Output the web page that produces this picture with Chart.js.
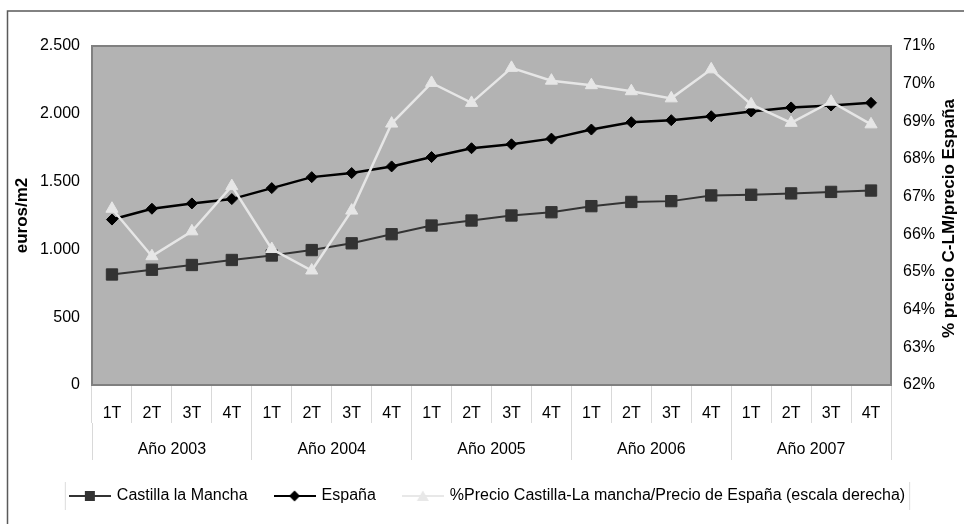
<!DOCTYPE html>
<html>
<head>
<meta charset="utf-8">
<script src="https://cdn.jsdelivr.net/npm/chart.js@4.4.1/dist/chart.umd.min.js"></script>
<style>
  html, body { margin: 0; padding: 0; background: #fff; }
  canvas { display: block; }
</style>
</head>
<body>
<canvas id="chart" width="964" height="524"></canvas>
<script>
// quarters shown on the first row of the x axis, years on the second row
const quarters = ['1T', '2T', '3T', '4T', '1T', '2T', '3T', '4T', '1T', '2T',
                  '3T', '4T', '1T', '2T', '3T', '4T', '1T', '2T', '3T', '4T'];
const years = ['Año 2003', 'Año 2004', 'Año 2005', 'Año 2006', 'Año 2007'];

// euros/m2
const castilla = [815, 850, 885, 922, 955, 995, 1045, 1112, 1176, 1213,
                  1250, 1274, 1319, 1350, 1356, 1398, 1403, 1413, 1424, 1434];
const espana = [1220, 1300, 1339, 1371, 1452, 1533, 1563, 1612, 1681, 1746,
                1775, 1817, 1884, 1938, 1953, 1982, 2017, 2047, 2061, 2081];
// % precio C-LM / precio España (right axis)
const ratio = [66.68, 65.42, 66.08, 67.28, 65.61, 65.04, 66.63, 68.94, 70.02, 69.49,
               70.42, 70.08, 69.96, 69.80, 69.61, 70.38, 69.45, 68.96, 69.52, 68.92];

const FONT = "'Liberation Sans', Arial, sans-serif";
Chart.defaults.font.family = FONT;
Chart.defaults.font.size = 16;
Chart.defaults.color = '#000';

const fmtThousands = v => String(v).replace(/\B(?=(\d{3})+(?!\d))/g, '.');

// small legend icons: line with the marker in the middle
function legendIcon(kind, color) {
  const c = document.createElement('canvas');
  c.width = 42; c.height = 14;
  const g = c.getContext('2d');
  g.strokeStyle = color; g.lineWidth = 2;
  g.beginPath(); g.moveTo(0, 7); g.lineTo(42, 7); g.stroke();
  g.fillStyle = color;
  g.beginPath();
  if (kind === 'rect') g.rect(16, 2, 10, 10);
  else if (kind === 'diamond') { g.moveTo(21, 1.5); g.lineTo(26.5, 7); g.lineTo(21, 12.5); g.lineTo(15.5, 7); g.closePath(); }
  else { g.moveTo(21, 1.5); g.lineTo(27, 12); g.lineTo(15, 12); g.closePath(); }
  g.fill();
  return c;
}
const icons = [legendIcon('rect', '#333333'), legendIcon('diamond', '#000000'), legendIcon('tri', '#e8e8e8')];

const frame = {
  id: 'frame',
  beforeDraw(chart) {
    const {ctx, chartArea: a} = chart;
    ctx.save();
    ctx.fillStyle = '#fff';
    ctx.fillRect(0, 0, chart.width, chart.height);
    ctx.strokeStyle = '#5a5a5a';
    ctx.lineWidth = 1.5;
    ctx.strokeRect(7.5, 11, chart.width, chart.height);
    ctx.fillStyle = '#b3b3b3';
    ctx.fillRect(a.left, a.top, a.right - a.left, a.bottom - a.top);
    ctx.restore();
  },
  beforeDatasetsDraw(chart) {
    const {ctx, chartArea: a} = chart;
    ctx.save();
    ctx.strokeStyle = '#808080';
    ctx.lineWidth = 2;
    ctx.strokeRect(a.left, a.top, a.right - a.left, a.bottom - a.top);
    ctx.restore();
  },
  afterDraw(chart) {
    const {ctx, chartArea: a} = chart;
    const y2 = chart.scales.y2;
    ctx.save();
    // right axis title, reading bottom to top
    ctx.translate(y2.right - 15, (a.top + a.bottom) / 2 + 3);
    ctx.rotate(-Math.PI / 2);
    ctx.font = 'bold 17px ' + FONT;
    ctx.textAlign = 'center';
    ctx.textBaseline = 'middle';
    ctx.fillStyle = '#000';
    ctx.fillText('% precio C-LM/precio España', 0, 0);
    ctx.restore();
    // faint legend frame sides
    const hb = chart.legend.legendHitBoxes;
    if (hb && hb.length) {
      const l = hb[0].left - 5.5;
      const r = hb[hb.length - 1].left + hb[hb.length - 1].width + 4.5;
      const t = hb[0].top - 6, b = hb[0].top + hb[0].height + 6;
      ctx.save();
      ctx.strokeStyle = '#dcdcdc';
      ctx.lineWidth = 1;
      ctx.beginPath();
      ctx.moveTo(l, t); ctx.lineTo(l, b);
      ctx.moveTo(r, t); ctx.lineTo(r, b);
      ctx.stroke();
      ctx.restore();
    }
  }
};

new Chart(document.getElementById('chart'), {
  type: 'line',
  data: {
    labels: quarters,
    datasets: [{
      label: 'Castilla la Mancha',
      data: castilla,
      yAxisID: 'y',
      order: 2,
      borderColor: '#333333',
      backgroundColor: '#333333',
      borderWidth: 2,
      pointStyle: 'rect',
      pointRadius: 8,
      pointBorderWidth: 1,
      tension: 0
    }, {
      label: 'España',
      data: espana,
      yAxisID: 'y',
      order: 1,
      borderColor: '#000000',
      backgroundColor: '#000000',
      borderWidth: 2.5,
      pointStyle: 'rectRot',
      pointRadius: 5.5,
      pointBorderWidth: 1,
      tension: 0
    }, {
      label: '%Precio Castilla-La mancha/Precio de España (escala derecha)',
      data: ratio,
      yAxisID: 'y2',
      order: 0,
      borderColor: '#e6e6e6',
      backgroundColor: '#e6e6e6',
      borderWidth: 2.5,
      pointStyle: 'triangle',
      pointRadius: 7,
      pointBorderWidth: 1,
      tension: 0
    }]
  },
  options: {
    responsive: false,
    animation: false,
    layout: { padding: { left: 12, right: 0, top: 46, bottom: 10 } },
    plugins: {
      tooltip: { enabled: false },
      legend: {
        position: 'bottom',
        labels: {
          padding: 28,
          usePointStyle: true,
          pointStyleWidth: 38,
          font: { size: 16 },
          color: '#000',
          sort: (a, b) => a.datasetIndex - b.datasetIndex,
          generateLabels(chart) {
            const items = Chart.defaults.plugins.legend.labels.generateLabels(chart);
            items.forEach(it => { it.pointStyle = icons[it.datasetIndex]; });
            return items;
          }
        }
      }
    },
    scales: {
      x: {
        type: 'category',
        position: 'bottom',
        weight: 0,
        offset: true,
        grid: { offset: true, drawOnChartArea: false, drawTicks: true, tickLength: 38, color: '#d9d9d9', lineWidth: 1 },
        border: { display: false },
        ticks: { autoSkip: false, maxRotation: 0, padding: -19, font: { size: 16 } },
        afterFit: s => { s.height = 38; }
      },
      x2: {
        type: 'category',
        labels: years,
        position: 'bottom',
        weight: 1,
        offset: true,
        grid: { offset: true, drawOnChartArea: false, drawTicks: true, tickLength: 37, color: '#d9d9d9', lineWidth: 1 },
        border: { display: false },
        ticks: { autoSkip: false, maxRotation: 0, padding: -20, font: { size: 16 } },
        afterFit: s => { s.height = 37; }
      },
      y: {
        position: 'left',
        min: 0,
        max: 2500,
        grid: { display: false, drawTicks: false },
        border: { display: false },
        ticks: { stepSize: 500, padding: 12, callback: v => fmtThousands(v) },
        title: { display: true, text: 'euros/m2', font: { size: 17, weight: 'bold' }, padding: 0 },
        afterFit: s => { s.width = 80; }
      },
      y2: {
        position: 'right',
        min: 62,
        max: 71,
        grid: { display: false, drawTicks: false },
        border: { display: false },
        ticks: { stepSize: 1, padding: 12, callback: v => v + '%' },
        afterFit: s => { s.width = 73; }
      }
    }
  },
  plugins: [frame]
});
</script>
</body>
</html>
